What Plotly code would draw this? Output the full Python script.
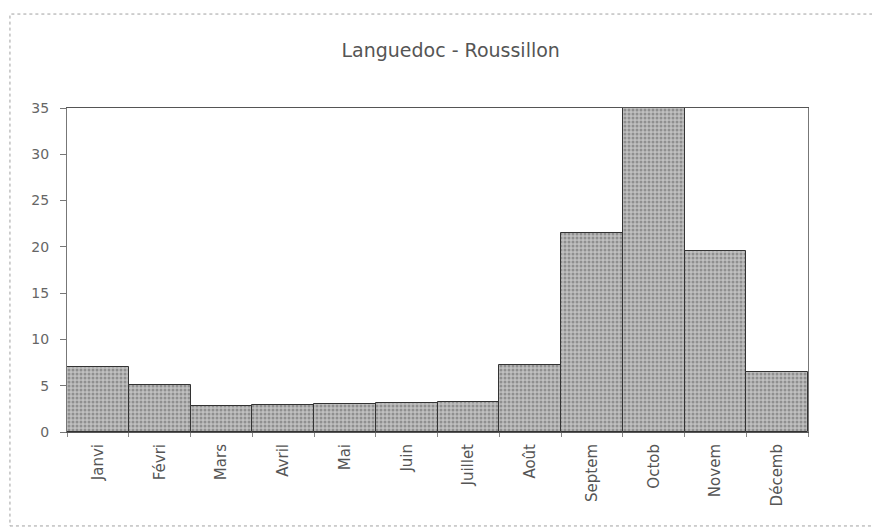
import plotly.graph_objects as go

months = ["Janvi", "Févri", "Mars", "Avril", "Mai", "Juin", "Juillet",
          "Août", "Septem", "Octob", "Novem", "Décemb"]
values = [7, 5.1, 2.8, 2.9, 3.0, 3.1, 3.2, 7.2, 21.5, 35, 19.5, 6.5]
y_ticks = [0, 5, 10, 15, 20, 25, 30, 35]

fig = go.Figure(go.Bar(
    x=months, y=values,
    marker=dict(color="#b0b0b0",
                line=dict(color="#333333", width=1),
                pattern=dict(shape=".", fgcolor="#5e5e5e", bgcolor="#c0c0c0",
                             size=4, solidity=0.45)),
))

fig.update_layout(
    width=880, height=529,
    margin=dict(l=59, r=80, t=100, b=105),
    paper_bgcolor="white", plot_bgcolor="white",
    bargap=0,
    showlegend=False,
    font=dict(family="DejaVu Sans, Arial, sans-serif", color="#555555", size=12),
    title=dict(text="Languedoc - Roussillon", x=0.503, xanchor="center",
               y=0.92, yanchor="middle",
               font=dict(size=19, color="#555555")),
    shapes=[dict(type="rect", xref="paper", yref="paper",
                 x0=-0.077, x1=1.2, y0=-0.29, y1=1.29,
                 line=dict(color="#a0a0a0", width=1, dash="dot"))],
)
fig.update_xaxes(
    type="category", tickangle=-90, ticks="outside", ticklen=4,
    tickson="boundaries", tickcolor="#888888",
    showline=True, linecolor="#555555", mirror=True,
    showgrid=False, tickfont=dict(size=15, color="#555555"),
    ticklabelstandoff=5,
)
fig.update_yaxes(
    range=[0, 35], tickvals=y_ticks, ticks="outside", ticklen=6,
    tickcolor="#777777",
    showline=True, linecolor="#777777", mirror=True,
    showgrid=False, zeroline=False,
    tickfont=dict(size=14, color="#666666"),
    ticklabelstandoff=8,
)

fig.write_html("out.html")
